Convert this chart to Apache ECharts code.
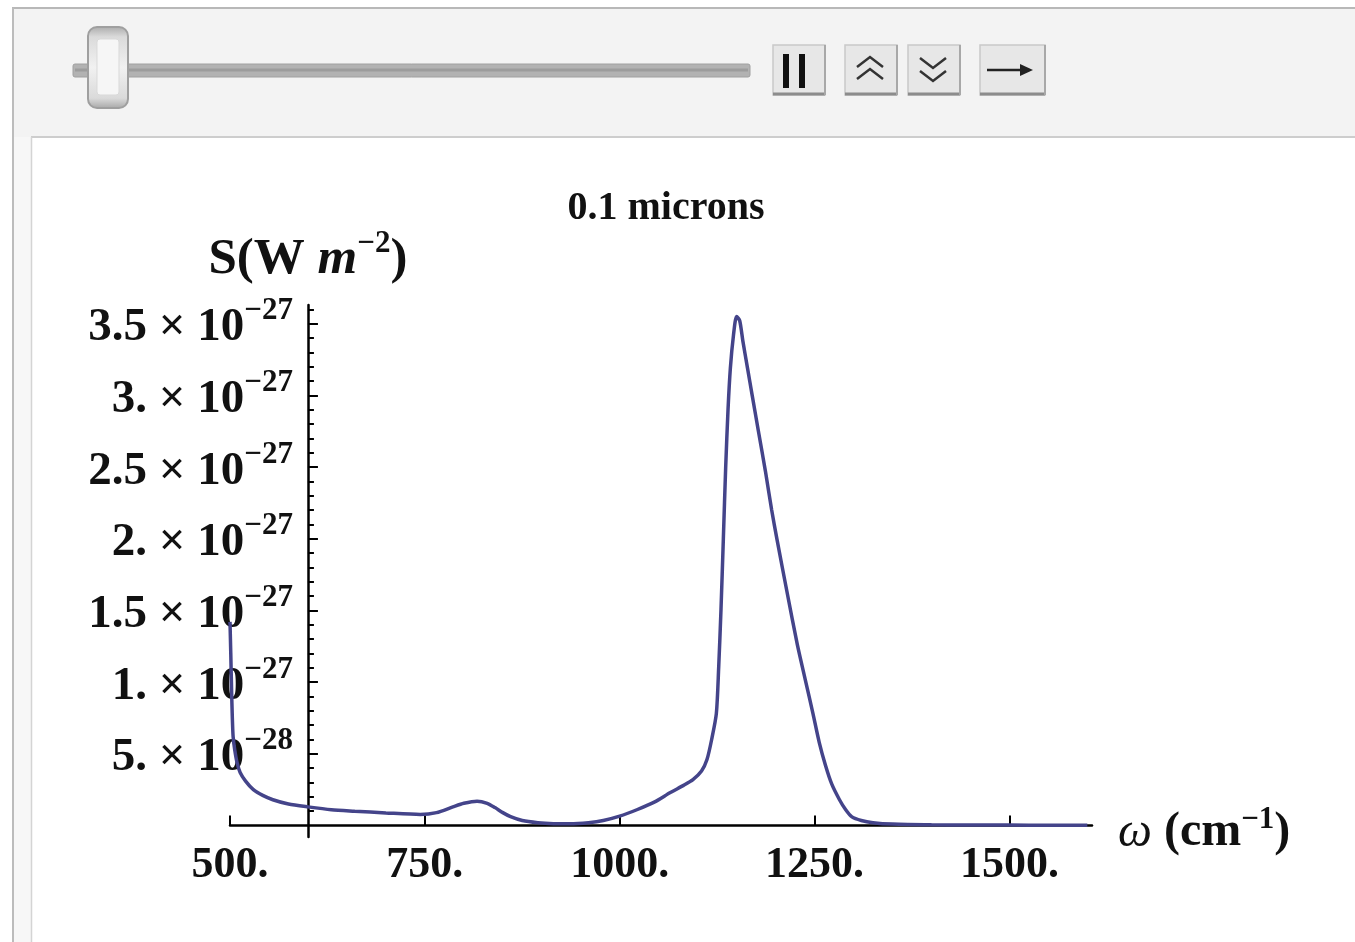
<!DOCTYPE html>
<html>
<head>
<meta charset="utf-8">
<script src="https://cdn.jsdelivr.net/npm/echarts@6/dist/echarts.min.js"></script>
<style>
html,body{margin:0;padding:0;background:#ffffff;}
#chart{width:1355px;height:942px;}
</style>
</head>
<body>
<div id="chart"></div>
<script>
// ---------------- data ----------------
const chartTitle = '0.1 microns';
// wavenumber omega (cm^-1)
const omega = [500, 501, 502, 503, 504, 506, 509, 513, 520, 530, 542, 555, 575, 600, 630, 660, 700, 744,
  765, 786, 800, 817, 830, 840, 850, 860, 875, 895, 915, 936, 960, 979, 1000, 1022, 1045, 1065, 1082,
  1094, 1105, 1112, 1118, 1124, 1127, 1130, 1133, 1136, 1139, 1142, 1146, 1150, 1154, 1158, 1164, 1170,
  1178, 1187, 1195, 1202, 1215, 1228, 1238, 1248, 1256, 1264, 1272, 1282, 1290, 1298, 1310, 1325, 1350,
  1400, 1450, 1500, 1550, 1600];
// S in units of 1e-27 W m^-2
const S_UNIT_EXP = -27;
const power = [1.42, 1.20, 0.95, 0.75, 0.62, 0.53, 0.44, 0.37, 0.31, 0.25, 0.21, 0.18, 0.15, 0.13, 0.11, 0.10, 0.088, 0.077,
  0.09, 0.13, 0.155, 0.17, 0.155, 0.125, 0.09, 0.062, 0.035, 0.02, 0.013, 0.012, 0.02, 0.035, 0.065, 0.11, 0.165, 0.23, 0.28,
  0.32, 0.38, 0.46, 0.60, 0.78, 1.10, 1.51, 2.00, 2.50, 2.90, 3.19, 3.42, 3.55, 3.52, 3.38, 3.19, 3.00,
  2.75, 2.47, 2.20, 1.99, 1.62, 1.26, 1.02, 0.78, 0.58, 0.42, 0.29, 0.18, 0.11, 0.06, 0.035, 0.02, 0.01,
  0.005, 0.004, 0.003, 0.002, 0.002];
const xTickValues = [500, 750, 1000, 1250, 1500];
const yMajorTickValues = [0.5, 1.0, 1.5, 2.0, 2.5, 3.0, 3.5];   // x 1e-27
const yMinorTickValues = [0.1, 0.2, 0.3, 0.4, 0.6, 0.7, 0.8, 0.9, 1.1, 1.2, 1.3, 1.4, 1.6, 1.7, 1.8, 1.9,
  2.1, 2.2, 2.3, 2.4, 2.6, 2.7, 2.8, 2.9, 3.1, 3.2, 3.3, 3.4, 3.6];

// ---------------- layout ----------------
const X_MIN = 500, X_MAX = 1606, Y_MIN = -0.08, Y_MAX = 3.63;
const AXIS_CROSS_X = 600;
const GRID = {left: 230, top: 305, width: 862, height: 532};
const yAxisOffset = -(AXIS_CROSS_X - X_MIN) / (X_MAX - X_MIN) * GRID.width;

const SERIF = "'Liberation Serif', 'DejaVu Serif', serif";
const INK = '#111111';

function fmtMant(m) {
  m = Math.round(m * 10) / 10;
  return Number.isInteger(m) ? (m + '.') : String(m);
}
function yLabel(v) {
  let m, e;
  if (v < 1) { m = v * 10; e = S_UNIT_EXP - 1; } else { m = v; e = S_UNIT_EXP; }
  return '{b|' + fmtMant(m) + ' \u00d7 10}{s|\u2212' + Math.abs(e) + '}';
}

const data = omega.map((w, i) => [w, power[i]]);

const chart = echarts.init(document.getElementById('chart'), null, {renderer: 'canvas'});

const graphics = [
  // control bar background
  {type: 'rect', shape: {x: 13, y: 8, width: 1342, height: 129}, style: {fill: '#f3f3f3'}, z: -20, silent: true},
  {type: 'rect', shape: {x: 13, y: 137, width: 18, height: 805}, style: {fill: '#f7f7f7'}, z: -20, silent: true},
  // outer frame
  {type: 'line', shape: {x1: 12, y1: 8, x2: 1355, y2: 8}, style: {stroke: '#b8b8b8', lineWidth: 2}, silent: true},
  {type: 'line', shape: {x1: 13, y1: 8, x2: 13, y2: 942}, style: {stroke: '#bcbcbc', lineWidth: 2}, silent: true},
  // inner pane frame
  {type: 'line', shape: {x1: 31, y1: 137, x2: 1355, y2: 137}, style: {stroke: '#cdcdcd', lineWidth: 2}, silent: true},
  {type: 'line', shape: {x1: 31.5, y1: 137, x2: 31.5, y2: 942}, style: {stroke: '#d4d4d4', lineWidth: 1.5}, silent: true},
  // slider track
  {type: 'rect', shape: {x: 73, y: 64, width: 677, height: 13, r: 2}, style: {fill: '#b2b2b2', stroke: '#a0a0a0', lineWidth: 1}, silent: true},
  {type: 'line', shape: {x1: 75, y1: 70, x2: 748, y2: 70}, style: {stroke: '#9c9c9c', lineWidth: 3}, silent: true},
  // slider thumb
  {type: 'rect', shape: {x: 88, y: 27, width: 40, height: 81, r: 9},
    style: {fill: new echarts.graphic.LinearGradient(0, 0, 0, 1, [
      {offset: 0, color: '#a9a9a9'}, {offset: 0.13, color: '#dadada'}, {offset: 0.5, color: '#f1f1f1'},
      {offset: 0.87, color: '#dadada'}, {offset: 1, color: '#a5a5a5'}]), stroke: '#9f9f9f', lineWidth: 2}, silent: true},
  {type: 'rect', shape: {x: 97, y: 39, width: 22, height: 56, r: 3}, style: {fill: '#f6f6f6', stroke: '#d9d9d9', lineWidth: 1}, silent: true},
  // buttons
  ...[[773, 52], [845, 52], [908, 52], [980, 65]].flatMap(([bx, bw]) => [
    {type: 'rect', shape: {x: bx, y: 45, width: bw, height: 50}, style: {fill: '#e7e7e7', stroke: '#c9c9c9', lineWidth: 1.5}, silent: true},
    {type: 'line', shape: {x1: bx, y1: 94, x2: bx + bw, y2: 94}, style: {stroke: '#8c8c8c', lineWidth: 3}, silent: true},
    {type: 'line', shape: {x1: bx + bw, y1: 45, x2: bx + bw, y2: 95}, style: {stroke: '#a8a8a8', lineWidth: 2}, silent: true}
  ]),
  // pause bars
  {type: 'rect', shape: {x: 783, y: 54, width: 6, height: 34}, style: {fill: '#111'}, silent: true},
  {type: 'rect', shape: {x: 799, y: 54, width: 6, height: 34}, style: {fill: '#111'}, silent: true},
  // double up chevrons
  {type: 'polyline', shape: {points: [[857, 67], [870, 57], [883, 67]]}, style: {stroke: '#333', lineWidth: 2.5, fill: null}, silent: true},
  {type: 'polyline', shape: {points: [[857, 79], [870, 69], [883, 79]]}, style: {stroke: '#333', lineWidth: 2.5, fill: null}, silent: true},
  // double down chevrons
  {type: 'polyline', shape: {points: [[920, 58], [933, 68], [946, 58]]}, style: {stroke: '#333', lineWidth: 2.5, fill: null}, silent: true},
  {type: 'polyline', shape: {points: [[920, 71], [933, 81], [946, 71]]}, style: {stroke: '#333', lineWidth: 2.5, fill: null}, silent: true},
  // right arrow
  {type: 'line', shape: {x1: 987, y1: 70, x2: 1024, y2: 70}, style: {stroke: '#222', lineWidth: 2.5}, silent: true},
  {type: 'polygon', shape: {points: [[1020, 64], [1033, 70], [1020, 76]]}, style: {fill: '#222'}, silent: true}
];

const option = {
  backgroundColor: '#ffffff',
  animation: false,
  title: {
    text: chartTitle,
    left: GRID.left + GRID.width / 2,
    textAlign: 'center',
    top: 184,
    textStyle: {fontFamily: SERIF, fontWeight: 'bold', fontSize: 40, color: INK}
  },
  graphic: {elements: graphics},
  grid: Object.assign({outerBoundsMode: 'none', containLabel: false}, GRID),
  xAxis: {
    type: 'value',
    min: X_MIN, max: X_MAX,
    axisLine: {show: true, onZero: true, lineStyle: {color: '#000', width: 2.5}},
    axisTick: {show: true, inside: true, length: 10, customValues: xTickValues, lineStyle: {color: '#000', width: 2}},
    axisLabel: {
      show: true, customValues: xTickValues, margin: 7,
      formatter: (v) => v + '.',
      fontFamily: SERIF, fontWeight: 'bold', fontSize: 44, color: INK
    },
    splitLine: {show: false},
    name: '{i|\u03c9\u00a0}{b|(cm}{s|\u22121}{b|)}',
    nameLocation: 'end',
    nameGap: 26,
    nameTextStyle: {
      verticalAlign: 'middle', padding: [10, 0, 0, 0],
      rich: {
        i: {fontFamily: SERIF, fontStyle: 'italic', fontSize: 48, color: INK, verticalAlign: 'bottom'},
        b: {fontFamily: SERIF, fontWeight: 'bold', fontSize: 48, color: INK, verticalAlign: 'bottom'},
        s: {fontFamily: SERIF, fontWeight: 'bold', fontSize: 31, color: INK, verticalAlign: 'bottom', padding: [0, 0, 22, 0]}
      }
    }
  },
  yAxis: [{
    type: 'value',
    min: Y_MIN, max: Y_MAX,
    position: 'left',
    offset: yAxisOffset,
    axisLine: {show: true, onZero: false, lineStyle: {color: '#000', width: 2.5}},
    axisTick: {show: true, inside: true, length: 6, customValues: yMinorTickValues, lineStyle: {color: '#000', width: 2}},
    axisLabel: {
      show: true, customValues: yMajorTickValues, margin: 15,
      formatter: yLabel,
      rich: {
        b: {fontFamily: SERIF, fontWeight: 'bold', fontSize: 47, color: INK, verticalAlign: 'bottom'},
        s: {fontFamily: SERIF, fontWeight: 'bold', fontSize: 31, color: INK, verticalAlign: 'bottom', padding: [0, 0, 25, 0]}
      }
    },
    splitLine: {show: false},
    name: '{b|S(W }{i|m}{s|\u22122}{b|)}',
    nameLocation: 'end',
    nameGap: 20,
    nameTextStyle: {
      rich: {
        b: {fontFamily: SERIF, fontWeight: 'bold', fontSize: 51, color: INK, verticalAlign: 'bottom'},
        i: {fontFamily: SERIF, fontWeight: 'bold', fontStyle: 'italic', fontSize: 51, color: INK, verticalAlign: 'bottom'},
        s: {fontFamily: SERIF, fontWeight: 'bold', fontSize: 31, color: INK, verticalAlign: 'bottom', padding: [0, 0, 26, 0]}
      }
    }
  }, {
    type: 'value',
    min: Y_MIN, max: Y_MAX,
    position: 'left',
    offset: yAxisOffset,
    axisLine: {show: false, onZero: false},
    axisTick: {show: true, inside: true, length: 10, customValues: yMajorTickValues, lineStyle: {color: '#000', width: 2}},
    axisLabel: {show: false},
    splitLine: {show: false}
  }],
  series: [{
    type: 'line',
    data: data,
    xAxisIndex: 0,
    yAxisIndex: 0,
    showSymbol: false,
    smooth: 0.25,
    clip: true,
    lineStyle: {color: '#44448a', width: 3.5},
    z: 5
  }]
};
chart.setOption(option);
</script>
</body>
</html>
